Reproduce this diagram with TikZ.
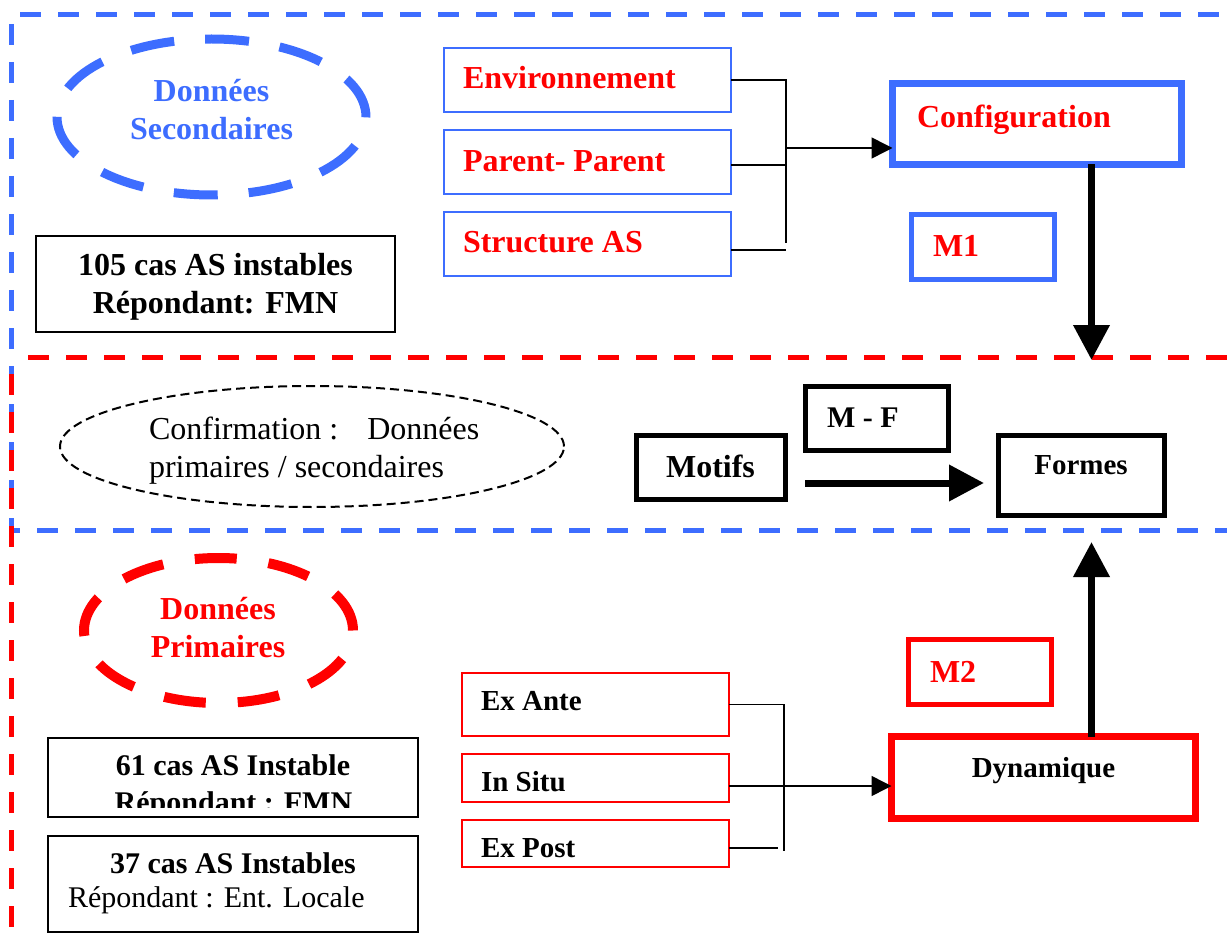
\documentclass[tikz,border=0pt]{standalone}
\usepackage{fontspec}
\setmainfont{Liberation Serif}
\usetikzlibrary{arrows.meta,shapes.geometric}
\definecolor{frameblue}{HTML}{3D6DFF}
\definecolor{framered}{HTML}{FF0000}

\begin{document}
\begin{tikzpicture}[x=1pt,y=-1pt,
  every node/.style={inner sep=0pt,outer sep=0pt},
  txtb/.style={font=\fontsize{#1}{#1}\selectfont\bfseries},
  txtr/.style={font=\fontsize{#1}{#1}\selectfont},
  frameline/.style={line width=5pt,dash pattern=on 21pt off 17pt},
  thinblue/.style={draw=frameblue,line width=1.7pt},
  thinred/.style={draw=framered,line width=2pt},
  plainbox/.style={draw=black,line width=2pt},
  conn/.style={draw=black,line width=1.5pt},
  bigarrow/.style={draw=black,line width=7pt,-{Triangle[length=35pt,width=35pt]}},
  smallarrow/.style={conn,-{Triangle[length=20pt,width=20pt]}}]

\useasboundingbox (0,0) rectangle (1227,944);

% section frames
\draw[frameline,frameblue,dash phase=29pt] (11,15) -- (1240,15);
\draw[frameline,frameblue,dash phase=29pt] (11,15) -- (11,530) -- (1240,530);
\draw[frameline,framered,dash phase=21pt] (11,357) -- (1240,357);
\draw[frameline,framered,dash phase=21pt] (11,357) -- (11,946.3) -- (1240,946.3);

% ---- secondary data ----
\node[ellipse,draw=frameblue,line width=9pt,dash pattern=on 44pt off 31pt,
      minimum width=309pt,minimum height=156pt] (secell) at (211.5,117) {};
\node[txtb=32,text=frameblue,anchor=base] (sec1) at (211.5,102) {Données};
\node[txtb=32,text=frameblue,anchor=base] (sec2) at (211.5,140) {Secondaires};

\node[plainbox,minimum width=359pt,minimum height=96pt] (cas105) at (215.5,284) {};
\node[txtb=32,anchor=base] (cas105a) at (215.5,276) {105 cas AS instables};
\node[txtb=32,anchor=base] (cas105b) at (215.5,313) {Répondant: FMN};

\node[thinblue,minimum width=287pt,minimum height=64pt] (env) at (587.5,80) {};
\node[thinblue,minimum width=287pt,minimum height=64pt] (par) at (587.5,162) {};
\node[thinblue,minimum width=287pt,minimum height=64pt] (struct) at (587.5,244) {};
\node[txtb=32,text=framered,anchor=base west] (envtxt) at (463,89) {Environnement};
\node[txtb=32,text=framered,anchor=base west] (partxt) at (463,172) {Parent- Parent};
\node[txtb=32,text=framered,anchor=base west] (structtxt) at (463,253) {Structure AS};

\node[draw=frameblue,line width=7pt,minimum width=289pt,minimum height=81pt] (config) at (1037,124) {};
\node[txtb=32,text=framered,anchor=base west] (configtxt) at (917,128) {Configuration};

\node[draw=frameblue,line width=5pt,minimum width=143pt,minimum height=65pt] (m1) at (983,247) {};
\node[txtb=32,text=framered,anchor=base west] (m1txt) at (933,257) {M1};

\coordinate (tbtop) at (786,80);
\coordinate (tbbot) at (786,243);
\coordinate (tbmid) at (786,148);
\coordinate (m1drop) at (1091.5,360);
\draw[conn] (env.east) -- (tbtop) -- (tbbot);
\draw[conn] ([yshift=-3pt]par.east) -- ([yshift=-3pt]par.east -| tbtop);
\draw[conn] ([yshift=-6pt]struct.east) -- ([yshift=-6pt]struct.east -| tbtop);
\draw[conn,-{Triangle[length=21pt,width=21pt]}] (tbmid) -- (tbmid -| config.west);
\draw[bigarrow] ([xshift=54.5pt]config.south) -- (m1drop);

% ---- confirmation ----
\node[ellipse,draw=black,line width=2pt,dash pattern=on 9pt off 5pt,
      minimum width=504pt,minimum height=121pt] (confell) at (312,446.5) {};
\node[txtr=32,anchor=base west] (conf1) at (149,439) {Confirmation :\hspace{29pt}Données};
\node[txtr=32,anchor=base west] (conf2) at (149,477) {primaires / secondaires};

\node[draw=black,line width=5pt,minimum width=149pt,minimum height=64pt] (motifs) at (711,467.5) {};
\node[txtb=32,anchor=base] (motifstxt) at (710.5,477) {Motifs};
\node[draw=black,line width=5pt,minimum width=143pt,minimum height=64pt] (mf) at (877,418.5) {};
\node[txtb=30,anchor=base west] (mftxt) at (827,427) {M - F};
\node[draw=black,line width=5pt,minimum width=166pt,minimum height=80pt] (formes) at (1081.5,475.5) {};
\node[txtb=29,anchor=base] (formestxt) at (1081,474) {Formes};

\draw[bigarrow] ([xshift=19.5pt,yshift=-15.5pt]motifs.east) -- ([xshift=-14.5pt,yshift=-7.5pt]formes.west);

% ---- primary data ----
\node[ellipse,draw=framered,line width=10pt,dash pattern=on 42pt off 32pt,
      minimum width=269pt,minimum height=145pt] (primell) at (218.5,630.5) {};
\node[txtb=32,text=framered,anchor=base] (prim1) at (218,619) {Données};
\node[txtb=32,text=framered,anchor=base] (prim2) at (218,657) {Primaires};

\node[plainbox,minimum width=370pt,minimum height=79pt] (cas61) at (233,777.5) {};
\node[txtb=30,anchor=base] (cas61a) at (233,775) {61 cas AS Instable};
\begin{scope}
  \clip (40,780) rectangle (425,807);
  \node[txtb=30,anchor=base] (cas61b) at (233.5,812) {Répondant : FMN};
\end{scope}

\node[plainbox,minimum width=370pt,minimum height=96pt] (cas37) at (233,884) {};
\node[txtb=30,anchor=base] (cas37a) at (233,873) {37 cas AS Instables};
\node[txtr=30,anchor=base west] (cas37b) at (68,907) {Répondant : Ent. Locale};

\node[thinred,minimum width=267pt,minimum height=63pt] (exante) at (595.5,704.5) {};
\node[thinred,minimum width=267pt,minimum height=48pt] (insitu) at (595.5,778) {};
\node[thinred,minimum width=267pt,minimum height=47pt] (expost) at (595.5,843.5) {};
\node[txtb=29,anchor=base west] (exantetxt) at (481,710) {Ex Ante};
\node[txtb=29,anchor=base west] (insitutxt) at (481,791) {In Situ};
\node[txtb=29,anchor=base west] (exposttxt) at (481,857) {Ex Post};

\node[draw=framered,line width=7pt,minimum width=304pt,minimum height=82pt] (dyn) at (1043.5,777.5) {};
\node[txtb=29,anchor=base] (dyntxt) at (1043.5,777) {Dynamique};

\node[draw=framered,line width=5pt,minimum width=143pt,minimum height=65pt] (m2) at (980,672) {};
\node[txtb=32,text=framered,anchor=base west] (m2txt) at (930,682) {M2};

\coordinate (bbtop) at (784,704.5);
\coordinate (bbbot) at (784,851);
\coordinate (bbstub) at (778,848);
\draw[conn] (exante.east) -- (bbtop) -- (bbbot);
\draw[conn] ([yshift=-4.5pt]expost.east) -- (bbstub);
\draw[smallarrow] ([yshift=-8pt]insitu.east) -- ([yshift=-8pt]insitu.east -| dyn.west);
\draw[bigarrow] ([xshift=48pt]dyn.north) -- ([xshift=10pt,yshift=-26.5pt]formes.south);

\end{tikzpicture}
\end{document}
